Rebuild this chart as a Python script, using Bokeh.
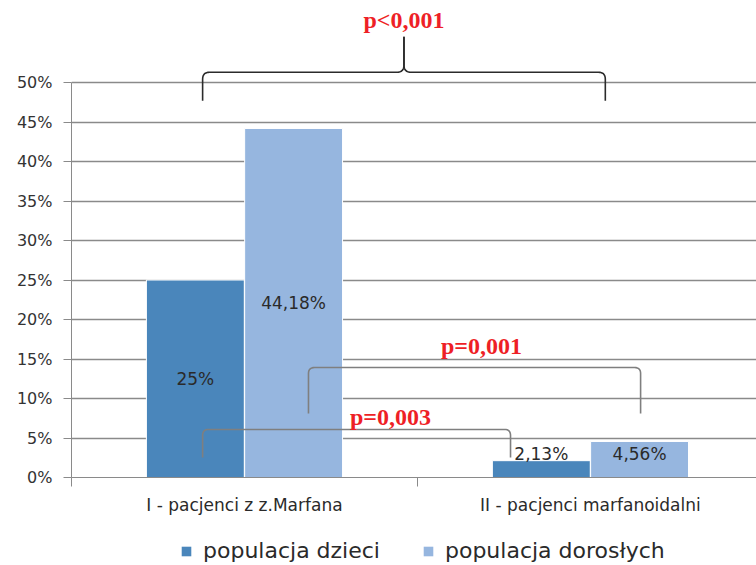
from bokeh.plotting import figure
from bokeh.layouts import column
from bokeh.models import (ColumnDataSource, Range1d, FixedTicker, Legend, LegendItem)
from bokeh.core.properties import value
from bokeh.embed import file_html
from bokeh.resources import INLINE

# --- data -------------------------------------------------------------
categories = ["I - pacjenci z z.Marfana", "II - pacjenci marfanoidalni"]
children = [25.0, 2.13]          # populacja dzieci (%)
adults = [44.18, 4.56]           # populacja dorosłych (%)
series_names = ["populacja dzieci", "populacja dorosłych"]
y_ticks = [0, 5, 10, 15, 20, 25, 30, 35, 40, 45, 50]
y_tick_labels = ["0%", "5%", "10%", "15%", "20%", "25%", "30%", "35%", "40%", "45%", "50%"]

# significance annotations: (left x, right x, foot y, top y, text, text x, text y)
brackets = [
    (0.379, 1.269, 2.53, 6.08, "p=0,003", 0.922, 7.6),
    (0.685, 1.645, 8.10, 13.92, "p=0,001", 1.185, 16.7),
]
# curly brace over both groups: (left x, right x, foot y, bar y, tip y, text, text y)
brace = (0.379, 1.543, 47.7, 51.3, 55.8, "p<0,001", 57.9)

# --- style ------------------------------------------------------------
DARK = "#4a86bb"
LIGHT = "#96b6df"
GRID = "#8a8a8a"
RED = "#ee1f26"
TEXT = "#2a2a2a"

W = 756
H_MAIN, H_LEG = 525, 40
LEFT, BOTTOM = 71, 48
X_END = 1.98
Y_END = 60.38
PX_X = (W - LEFT) / X_END
PX_Y = (H_MAIN - BOTTOM) / Y_END

OFFSET = 0.142
BAR_W = 0.283

p = figure(width=W, height=H_MAIN, output_backend="svg", toolbar_location=None,
           x_range=Range1d(0, X_END), y_range=Range1d(0, Y_END),
           min_border_left=LEFT, min_border_right=0, min_border_top=0,
           min_border_bottom=BOTTOM, outline_line_color=None,
           background_fill_color="white", border_fill_color="white")

centers = [i + 0.5 for i in range(len(categories))]
src_c = ColumnDataSource(dict(x=[c - OFFSET for c in centers], top=children))
src_a = ColumnDataSource(dict(x=[c + OFFSET for c in centers], top=adults))

p.vbar(x="x", top="top", width=BAR_W, source=src_c, fill_color=DARK,
       line_color="white", line_width=1)
p.vbar(x="x", top="top", width=BAR_W, source=src_a, fill_color=LIGHT,
       line_color="white", line_width=1)

# value labels
def fmt(v):
    s = ("%.2f" % v).rstrip("0").rstrip(".")
    return s.replace(".", ",") + "%"

lx, ly, lt = [], [], []
for xs, vals in ((src_c.data["x"], children), (src_a.data["x"], adults)):
    for x, v in zip(xs, vals):
        lx.append(x)
        ly.append(v / 2 if v > 10 else 3.0)
        lt.append(fmt(v))
p.text(x=lx, y=ly, text=lt, text_align="center", text_baseline="middle",
       text_font=value("DejaVu Sans"), text_font_size="17px", text_color=TEXT)

# --- rounded polylines for brackets -------------------------------------
def rounded(points, r_px=5, n=8):
    """Polyline through data points with corners rounded by r_px pixels."""
    pts = [(x * PX_X, y * PX_Y) for x, y in points]
    out = [pts[0]]
    for i in range(1, len(pts) - 1):
        (ax, ay), (bx, by), (cx, cy) = pts[i - 1], pts[i], pts[i + 1]
        d1 = ((bx - ax) ** 2 + (by - ay) ** 2) ** 0.5
        d2 = ((cx - bx) ** 2 + (cy - by) ** 2) ** 0.5
        r1 = min(r_px, d1 / 2)
        r2 = min(r_px, d2 / 2)
        s = (bx - (bx - ax) / d1 * r1, by - (by - ay) / d1 * r1)
        e = (bx + (cx - bx) / d2 * r2, by + (cy - by) / d2 * r2)
        for k in range(n + 1):
            t = k / n
            qx = (1 - t) ** 2 * s[0] + 2 * (1 - t) * t * bx + t ** 2 * e[0]
            qy = (1 - t) ** 2 * s[1] + 2 * (1 - t) * t * by + t ** 2 * e[1]
            out.append((qx, qy))
    out.append(pts[-1])
    return [q[0] / PX_X for q in out], [q[1] / PX_Y for q in out]

for x0, x1, yf, yt, label, tx, ty in brackets:
    xs, ys = rounded([(x0, yf), (x0, yt), (x1, yt), (x1, yf)], r_px=6)
    p.line(xs, ys, line_color="#7f7f7f", line_width=1.6)
    p.text(x=[tx], y=[ty], text=[label], text_align="center", text_baseline="middle",
           text_font=value("Liberation Serif"), text_font_style="bold",
           text_font_size="24px", text_color=RED)

bx0, bx1, byf, byb, byt, blabel, bty = brace
bmid = (bx0 + bx1) / 2
for side in (bx0, bx1):
    xs, ys = rounded([(side, byf), (side, byb), (bmid, byb), (bmid, byt)], r_px=7)
    p.line(xs, ys, line_color="#2b2b2b", line_width=1.6)
p.text(x=[bmid], y=[bty], text=[blabel], text_align="center", text_baseline="middle",
       text_font=value("Liberation Serif"), text_font_style="bold",
       text_font_size="24px", text_color=RED)

# --- axes ---------------------------------------------------------------
p.yaxis.ticker = FixedTicker(ticks=y_ticks)
p.yaxis.major_label_overrides = {t: l for t, l in zip(y_ticks, y_tick_labels)}
p.yaxis.bounds = (0, 50)
p.yaxis.axis_line_color = GRID
p.yaxis.major_tick_line_color = GRID
p.yaxis.major_tick_in = 0
p.yaxis.major_tick_out = 8
p.yaxis.minor_tick_line_color = None
p.yaxis.major_label_text_font = "DejaVu Sans"
p.yaxis.major_label_text_font_size = "16px"
p.yaxis.major_label_text_color = "#333333"
p.yaxis.major_label_standoff = 11

p.xaxis.ticker = FixedTicker(ticks=centers, minor_ticks=[0, 1, 2])
p.xaxis.major_label_overrides = {c: n for c, n in zip(centers, categories)}
p.xaxis.axis_line_color = GRID
p.xaxis.major_tick_line_color = None
p.xaxis.major_tick_out = 0
p.xaxis.major_tick_in = 0
p.xaxis.minor_tick_line_color = GRID
p.xaxis.minor_tick_in = 0
p.xaxis.minor_tick_out = 9
p.xaxis.major_label_text_font = "DejaVu Sans"
p.xaxis.major_label_text_font_size = "17px"
p.xaxis.major_label_text_color = TEXT
p.xaxis.major_label_standoff = 8

p.xgrid.grid_line_color = None
p.ygrid.ticker = FixedTicker(ticks=y_ticks)
p.ygrid.grid_line_color = GRID
p.ygrid.grid_line_width = 1.3

# --- legend strip under the chart (frame aligned with the chart's frame) ---
lg = figure(width=W, height=H_LEG, output_backend="svg", toolbar_location=None,
            x_range=Range1d(0, 1), y_range=Range1d(0, 1),
            x_axis_type=None, y_axis_type=None,
            min_border_left=LEFT, min_border_right=0, min_border_top=0,
            min_border_bottom=0, outline_line_color=None,
            background_fill_color="white", border_fill_color="white")
lg.grid.grid_line_color = None
# swatch renderers: one zero-area bar each, placed outside the visible ranges
proxy = ColumnDataSource(dict(x=[5], top=[-5], bottom=[-5]))
k_c = lg.vbar(x="x", top="top", bottom="bottom", width=0.1, source=proxy,
              fill_color=DARK, line_color=None)
k_a = lg.vbar(x="x", top="top", bottom="bottom", width=0.1, source=proxy,
              fill_color=LIGHT, line_color=None)
legend = Legend(items=[LegendItem(label=series_names[0], renderers=[k_c]),
                       LegendItem(label=series_names[1], renderers=[k_a])],
                orientation="horizontal", location=(180 - LEFT, 2),
                border_line_color=None, background_fill_alpha=0,
                label_text_font="DejaVu Sans", label_text_font_size="22px",
                label_text_color=TEXT, glyph_width=12, glyph_height=12,
                label_standoff=11, spacing=42, padding=0, margin=0)
lg.add_layout(legend)

open("out.html", "w").write(file_html(column(p, lg), INLINE))
